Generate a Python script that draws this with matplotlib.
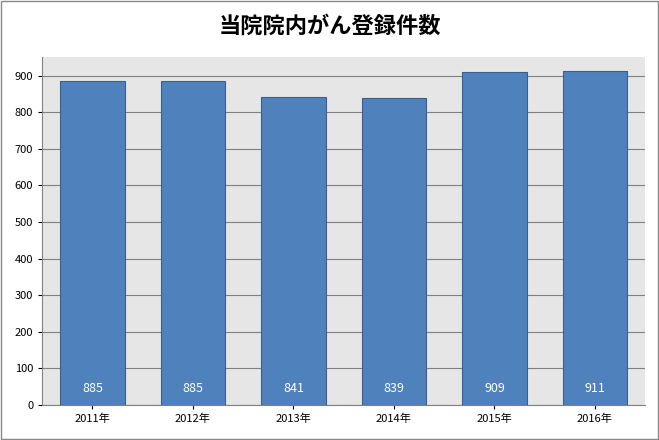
import matplotlib
matplotlib.use('Agg')
import matplotlib.pyplot as plt
from matplotlib.patches import Rectangle

plt.rcParams['font.family'] = ['Noto Sans CJK JP', 'DejaVu Sans']

years = ['2011年', '2012年', '2013年', '2014年', '2015年', '2016年']
counts = [885, 885, 841, 839, 909, 911]

fig = plt.figure(figsize=(6.59, 4.40), dpi=100)
fig.patches.append(Rectangle((0.001, 0.002), 0.997, 0.995, transform=fig.transFigure,
                             fill=False, edgecolor='#888888', linewidth=1))
ax = fig.add_axes([0.064, 0.0795, 0.915, 0.7905])
ax.set_facecolor('#e6e6e6')

x = range(len(years))
ax.bar(x, counts, width=0.64, color='#4f81bd', edgecolor='#3a5f8c', linewidth=0.8, zorder=3)
for i, v in enumerate(counts):
    ax.text(i, 45, str(v), color='white', ha='center', va='center', fontsize=9, zorder=4)

ax.set_xlim(-0.5, len(years) - 0.5)
ax.set_ylim(0, 950)
ax.set_yticks(range(0, 901, 100))
ax.set_xticks(list(x))
ax.set_xticklabels(years)
ax.tick_params(labelsize=8, length=3)
ax.grid(axis='y', color='#808080', linewidth=0.8, zorder=0)
for s in ['top', 'right']:
    ax.spines[s].set_visible(False)
ax.spines['left'].set_color('#808080')
ax.spines['bottom'].set_color('#808080')

fig.text(0.5, 0.94, '当院院内がん登録件数', ha='center', va='center', fontsize=16, fontweight='bold')

fig.savefig('out.png', dpi=100)
